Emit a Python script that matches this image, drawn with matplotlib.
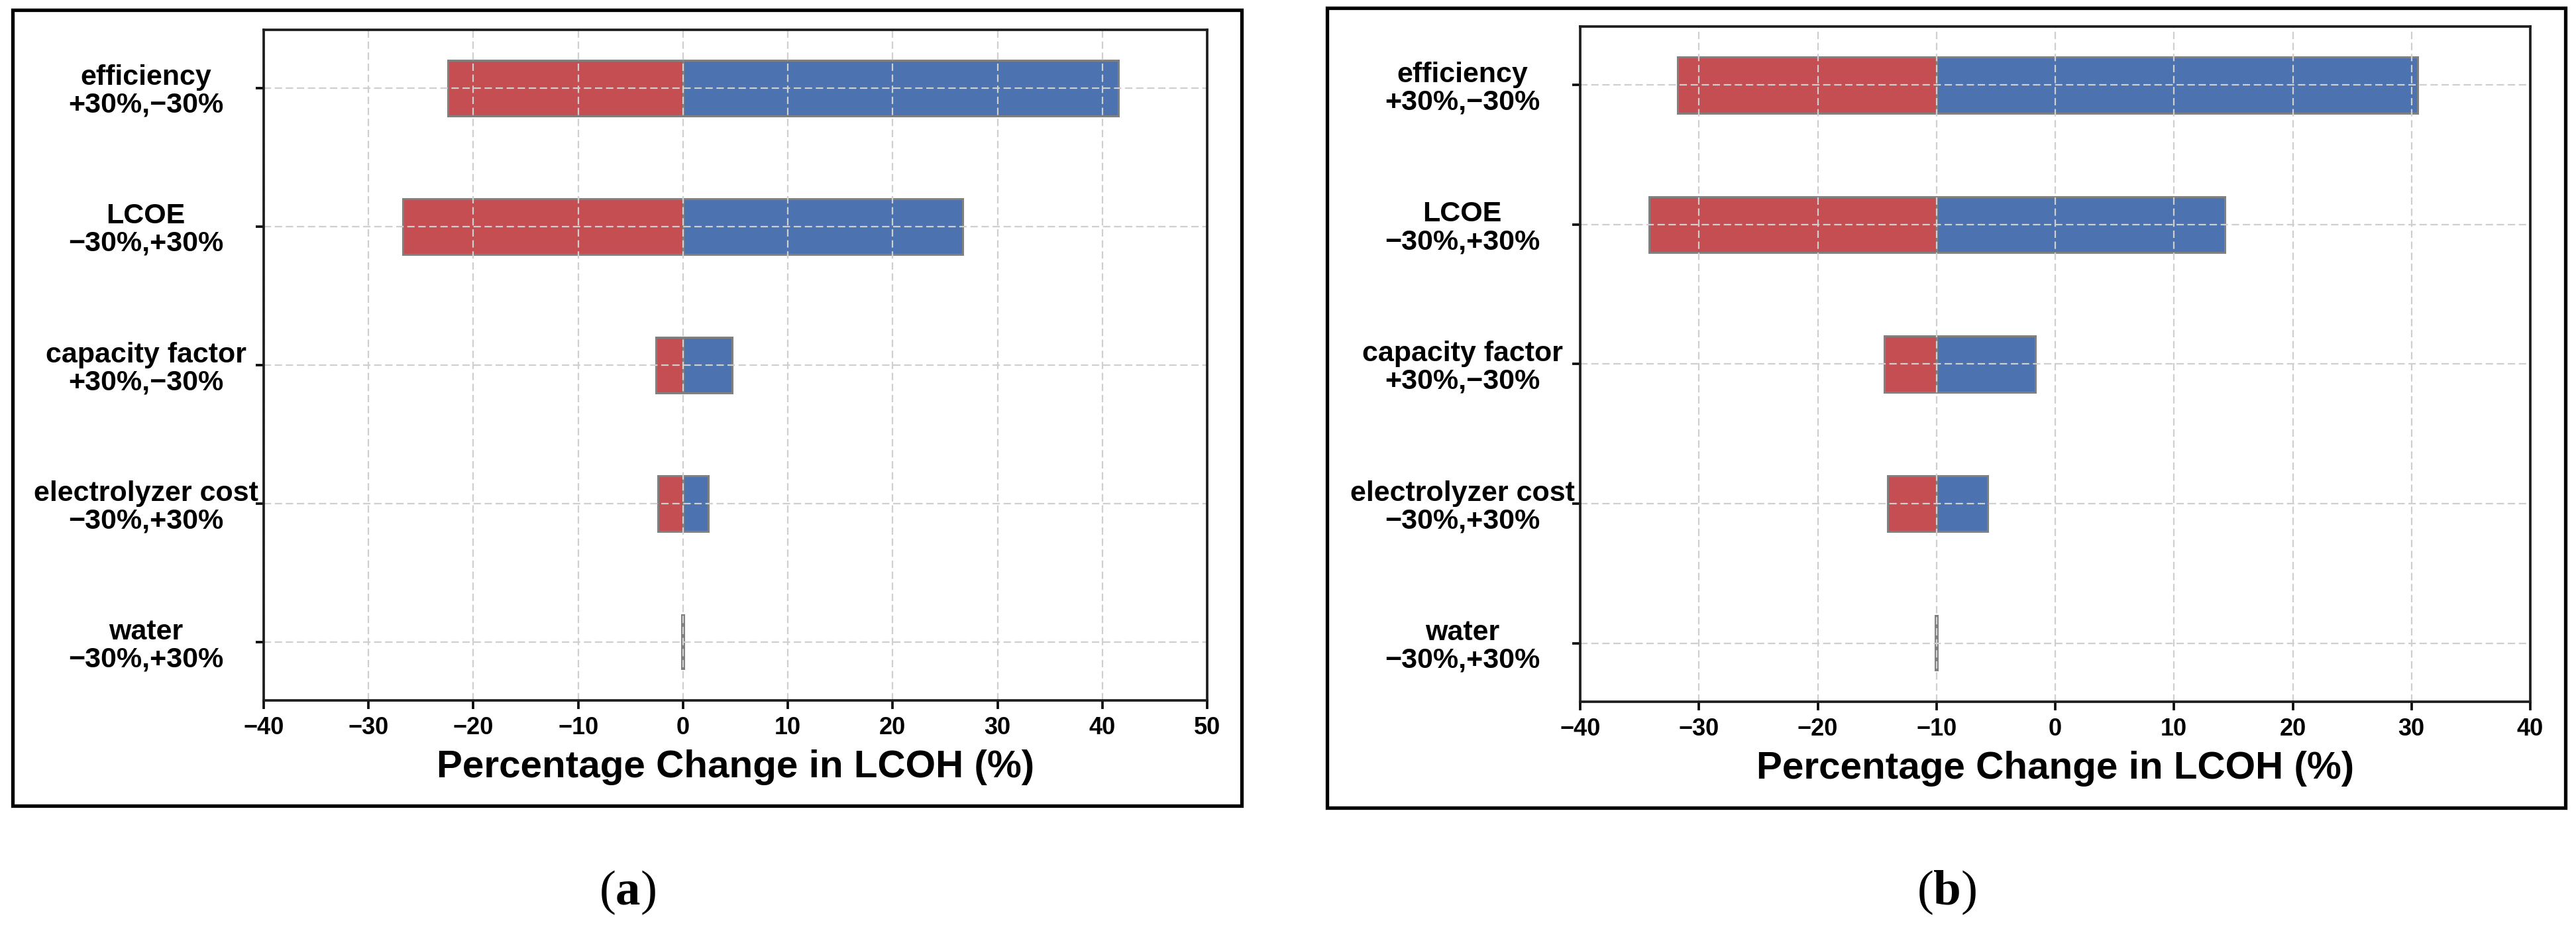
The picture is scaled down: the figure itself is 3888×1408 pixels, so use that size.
import matplotlib
matplotlib.use("Agg")
import matplotlib.pyplot as plt
from matplotlib.patches import Rectangle

plt.rcParams['font.family'] = ['Liberation Sans', 'DejaVu Sans']
plt.rcParams['font.weight'] = 'bold'
plt.rcParams['mathtext.fontset'] = 'custom'
plt.rcParams['mathtext.rm'] = 'Liberation Serif'
plt.rcParams['mathtext.bf'] = 'Liberation Serif:bold'

# ---- data ----
categories = ['efficiency\n+30%,\u221230%', 'LCOE\n\u221230%,+30%',
              'capacity factor\n+30%,\u221230%', 'electrolyzer cost\n\u221230%,+30%',
              'water\n\u221230%,+30%']
a_base = 0.0
a_low = [-22.4, -26.7, -2.6, -2.4, 0.0]
a_high = [41.5, 26.7, 4.7, 2.4, 0.0]
a_xlim = (-40, 50)

b_base = -10.0
b_low = [-31.8, -34.2, -14.4, -14.1, -10.0]
b_high = [30.5, 14.3, -1.7, -5.7, -10.0]
b_xlim = (-40, 40)

x_label = 'Percentage Change in LCOH (%)'
captions = ['a', 'b']

RED = '#C44E52'
BLUE = '#4C72B0'
EDGE = '#808080'

W, H = 3888, 1408
fig = plt.figure(figsize=(W / 100, H / 100), dpi=100)

axes_rects = [
    (398 / W, 1 - 1057 / H, (1822 - 398) / W, (1057 - 45) / H),
    (2385 / W, 1 - 1059 / H, (3819 - 2385) / W, (1059 - 40) / H),
]
border_rects = [
    (19 / W, 1 - 1216 / H, (1874 - 19) / W, (1216 - 15) / H),
    (2003 / W, 1 - 1219 / H, (3872 - 2003) / W, (1219 - 12) / H),
]
caption_x = [947 / W, 2938 / W]

datasets = [(a_base, a_low, a_high, a_xlim), (b_base, b_low, b_high, b_xlim)]

n = len(categories)
ypos = list(range(n - 1, -1, -1))

for i, (base, low, high, xlim) in enumerate(datasets):
    ax = fig.add_axes(axes_rects[i])
    ax.set_axisbelow(False)
    lw_low = [4.2 if l == base else 2.2 for l in low]
    lw_high = [4.2 if h == base else 2.2 for h in high]
    ax.barh(ypos, [l - base for l in low], left=base, height=0.4,
            color=RED, edgecolor=EDGE, linewidth=lw_low, zorder=1)
    ax.barh(ypos, [h - base for h in high], left=base, height=0.4,
            color=BLUE, edgecolor=EDGE, linewidth=lw_high, zorder=1)
    ax.set_xlim(*xlim)
    ax.set_xticks(range(xlim[0], xlim[1] + 1, 10))
    ax.set_yticks(ypos)
    ax.set_yticklabels(categories, fontsize=31, fontweight='bold',
                       ha='center', linespacing=1.05)
    ax.grid(True, color='#cfcfcf', linestyle=(0, (5, 2.5)), linewidth=1.6)
    for s in ax.spines.values():
        s.set_color('#1e1e1e')
        s.set_linewidth(2.7)
        s.set_zorder(5)
    ax.tick_params(axis='y', length=9, width=2.6, pad=119, colors='#000000')
    ax.tick_params(axis='x', length=9, width=2.6, pad=8, labelsize=26)
    for lab in ax.get_xticklabels():
        lab.set_fontweight('bold')
    ax.set_xlabel(x_label, fontsize=42, fontweight='bold', labelpad=11)

    x0, y0, bw, bh = border_rects[i]
    fig.patches.append(Rectangle((x0, y0), bw, bh, transform=fig.transFigure,
                                 fill=False, edgecolor='black', linewidth=3.8))
    fig.text(caption_x[i], 1 - 1347 / H, r'($\mathbf{' + captions[i] + r'}$)',
             fontsize=54, ha='center', va='center',
             family='Liberation Serif', fontweight='normal')

fig.savefig('out.png', dpi=100, facecolor='white')
